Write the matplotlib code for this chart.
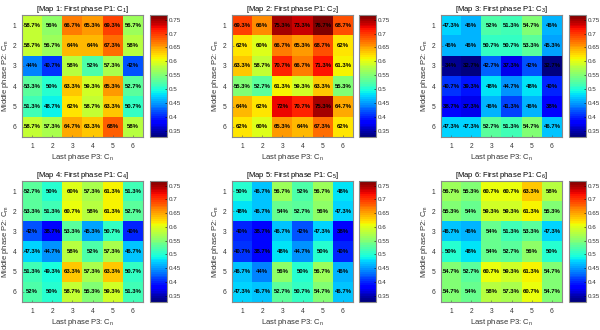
import numpy as np
import matplotlib
matplotlib.use("Agg")
import matplotlib.pyplot as plt

plt.rcParams['font.family'] = ['Liberation Sans', 'DejaVu Sans']
plt.rcParams['mathtext.fontset'] = 'custom'
plt.rcParams['mathtext.rm'] = 'Liberation Sans'
plt.rcParams['mathtext.it'] = 'Liberation Sans'

# Success rate (%) for each combination: rows = middle phase P2, cols = last phase P3
map1 = [[58.7, 56, 66.7, 65.3, 69.3, 56.7],
        [58.7, 56.7, 64, 64, 67.3, 58],
        [44, 40.7, 58, 52, 57.3, 42],
        [53.3, 50, 63.3, 59.3, 65.3, 52.7],
        [51.3, 48.7, 62, 58.7, 63.3, 50.7],
        [58.7, 57.3, 64.7, 63.3, 68, 58]]
map2 = [[69.3, 66, 75.3, 73.3, 76.7, 68.7],
        [62, 60, 66.7, 65.3, 68.7, 62],
        [63.3, 58.7, 70.7, 66.7, 71.3, 61.3],
        [55.3, 52.7, 61.3, 59.3, 63.3, 55.3],
        [64, 62, 72, 70.7, 75.3, 64.7],
        [62, 60, 65.3, 64, 67.3, 62]]
map3 = [[47.3, 46, 52, 51.3, 54.7, 46],
        [46, 46, 50.7, 50.7, 53.3, 45.3],
        [34, 32.7, 42.7, 37.3, 42, 32.7],
        [40.7, 39.3, 48, 44.7, 48, 40],
        [38.7, 37.3, 46, 41.3, 46, 38],
        [47.3, 47.3, 52.7, 51.3, 54.7, 46.7]]
map4 = [[52.7, 50, 60, 57.3, 61.3, 51.3],
        [53.3, 51.3, 60.7, 58, 61.3, 52.7],
        [42, 38.7, 53.3, 45.3, 50.7, 40],
        [47.3, 44.7, 58, 52, 57.3, 46.7],
        [51.3, 49.3, 63.3, 57.3, 63.3, 50.7],
        [52, 50, 58.7, 55.3, 59.3, 51.3]]
map5 = [[50, 46.7, 56.7, 52, 56.7, 48],
        [48, 46.7, 54, 52.7, 56, 47.3],
        [40, 38.7, 46.7, 42, 47.3, 38],
        [40.7, 38.7, 48, 44.7, 50, 40],
        [46.7, 44, 56, 50, 56.7, 46],
        [47.3, 46.7, 52.7, 50.7, 54.7, 46.7]]
map6 = [[56.7, 55.3, 60.7, 60.7, 63.3, 58],
        [55.3, 54, 59.3, 59.3, 61.3, 55.3],
        [46.7, 46, 54, 51.3, 53.3, 47.3],
        [50, 48, 54, 52.7, 56, 50],
        [54.7, 52.7, 60.7, 59.3, 61.3, 54.7],
        [54.7, 54, 58, 57.3, 60.7, 54.7]]
maps = [map1, map2, map3, map4, map5, map6]

tick_labels = ['1', '2', '3', '4', '5', '6']
cbar_ticks = [0.35, 0.4, 0.45, 0.5, 0.55, 0.6, 0.65, 0.7, 0.75]
vmin, vmax = 0.327, 0.767

W, H = 600, 330
fig = plt.figure(figsize=(6, 3.3), dpi=100)

def px_axes(x0, y0, x1, y1):
    return fig.add_axes([x0 / W, 1 - y1 / H, (x1 - x0) / W, (y1 - y0) / H])

lefts = [22, 232, 441]
cb_lefts = [150, 359, 569]
tops = [(15, 137), (181, 302)]
edge = '#8a8a8a'
cmap = plt.get_cmap('jet', 64)

for k, data in enumerate(maps):
    r, c = divmod(k, 3)
    y0, y1 = tops[r]
    ax = px_axes(lefts[c], y0, lefts[c] + 121, y1)
    arr = np.array(data) / 100.0
    im = ax.imshow(arr, cmap=cmap, vmin=vmin, vmax=vmax, aspect='auto',
                   interpolation='nearest')
    for i in range(6):
        for j in range(6):
            ax.text(j, i, f"{data[i][j]:g}%", ha='center', va='center',
                    fontsize=4.3, fontweight='bold', color='black')
    ax.set_xticks(range(6))
    ax.set_yticks(range(6))
    ax.set_xticklabels(tick_labels, fontsize=4.8, color='#333333')
    ax.set_yticklabels(tick_labels, fontsize=4.8, color='#333333')
    ax.tick_params(direction='in', length=1.5, width=0.4, color='#555555', pad=4)
    for s in ax.spines.values():
        s.set_color(edge)
        s.set_linewidth(0.8)
    ax.set_title(r'[Map %d: First phase P1: C$_{%d}$]' % (k + 1, k + 1),
                 fontsize=5.5, pad=3)
    ax.set_xlabel(r'Last phase P3: C$_\mathregular{n}$', fontsize=5.5,
                  labelpad=1.5, color='#333333')
    ax.set_ylabel(r'Middle phase P2: C$_\mathregular{m}$', fontsize=5.5,
                  labelpad=1.5, color='#333333')

    cax = px_axes(cb_lefts[c], y0, cb_lefts[c] + 17, y1)
    cb = fig.colorbar(im, cax=cax, ticks=cbar_ticks)
    cb.ax.set_yticklabels([f"{t:g}" for t in cbar_ticks])
    cb.ax.tick_params(labelsize=4.5, direction='in', length=1.5, width=0.4,
                      pad=1.5, labelcolor='#333333')
    cb.outline.set_edgecolor(edge)
    cb.outline.set_linewidth(0.8)

fig.savefig('out.png', dpi=100, facecolor='white')
